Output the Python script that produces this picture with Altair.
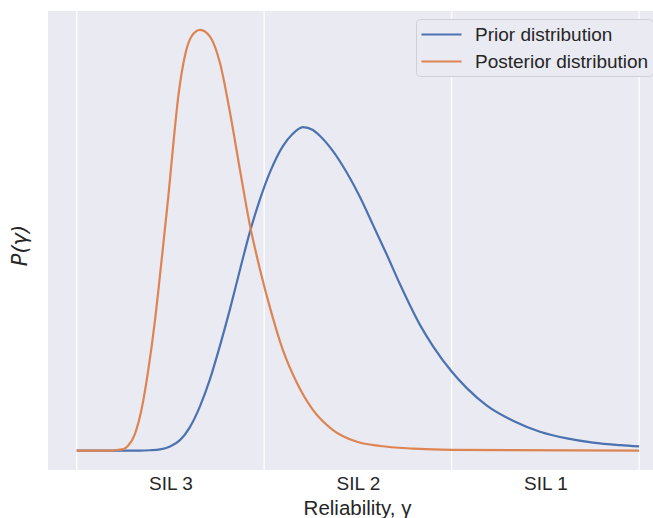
import altair as alt
import pandas as pd

# Reliability axis: 0..3 spans the three SIL bands (gridlines at band edges)
prior_x = [0.000, 0.338, 0.391, 0.444, 0.498, 0.551, 0.604, 0.658, 0.711, 0.764,
           0.818, 0.871, 0.924, 0.978, 1.031, 1.100, 1.150, 1.207, 1.260, 1.298,
           1.367, 1.442, 1.511, 1.581, 1.655, 1.724, 1.831, 1.901, 2.000, 2.082,
           2.188, 2.327, 2.471, 2.615, 2.754, 2.898, 3.000]
prior_y = [0.000, 0.000, 0.001, 0.003, 0.010, 0.025, 0.056, 0.106, 0.170, 0.249,
           0.337, 0.430, 0.520, 0.598, 0.662, 0.724, 0.752, 0.769, 0.762, 0.748,
           0.712, 0.660, 0.603, 0.536, 0.465, 0.396, 0.299, 0.248, 0.188, 0.148,
           0.107, 0.071, 0.045, 0.029, 0.019, 0.013, 0.010]

post_x = [0.000, 0.178, 0.222, 0.250, 0.275, 0.311, 0.347, 0.382, 0.418, 0.453,
          0.489, 0.515, 0.542, 0.578, 0.613, 0.658, 0.711, 0.764, 0.818, 0.871,
          0.924, 0.978, 1.031, 1.100, 1.175, 1.260, 1.367, 1.495, 1.618, 1.794,
          2.000, 3.000]
post_y = [0.000, 0.000, 0.002, 0.004, 0.012, 0.040, 0.100, 0.192, 0.311, 0.453,
          0.605, 0.727, 0.842, 0.940, 0.985, 1.000, 0.984, 0.922, 0.803, 0.667,
          0.536, 0.430, 0.340, 0.239, 0.161, 0.097, 0.049, 0.021, 0.011, 0.005,
          0.002, 0.000]

series_names = ["Prior distribution", "Posterior distribution"]
series_colors = ["#4C72B0", "#DD8452"]

band_edges = [0, 1, 2, 3]
tick_pos = [0.5, 1.5, 2.5]
tick_labels = ["SIL 3", "SIL 2", "SIL 1"]

df = pd.concat([
    pd.DataFrame({"x": prior_x, "y": prior_y, "series": series_names[0]}),
    pd.DataFrame({"x": post_x, "y": post_y, "series": series_names[1]}),
])

label_expr = " : ".join(
    [f"datum.value == {p} ? '{l}'" for p, l in zip(tick_pos, tick_labels)]
) + " : ''"

FONT = "Liberation Sans"
TXT = "#262626"

xscale = alt.Scale(domain=[-0.153, 3.074], nice=False, zero=False)
yscale = alt.Scale(domain=[-0.046, 1.045], nice=False, zero=False)

x_axis = alt.Axis(
    values=tick_pos,
    labelExpr=label_expr,
    grid=False,
    ticks=False,
    domain=False,
    labelFont=FONT,
    labelFontSize=19,
    labelColor=TXT,
    labelPadding=4,
    title="Reliability, γ",
    titleFont=FONT,
    titleFontSize=20.5,
    titleFontWeight="normal",
    titleColor=TXT,
    titleX=309,
    titlePadding=5,
)

y_axis = alt.Axis(
    labels=False,
    ticks=False,
    grid=False,
    domain=False,
    title="P(γ)",
    titleFont="DejaVu Sans",
    titleFontSize=21,
    titleFontWeight="normal",
    titleFontStyle="italic",
    titleColor=TXT,
    titleY=234,
    titleX=-18,
)

grid = alt.Chart(pd.DataFrame({"e": band_edges})).mark_rule(
    color="white", strokeWidth=1.2
).encode(x=alt.X("e:Q", scale=xscale, axis=x_axis))

color = alt.Color(
    "series:N",
    scale=alt.Scale(domain=series_names, range=series_colors),
    legend=alt.Legend(
        title=None,
        orient="none",
        legendX=368,
        legendY=8,
        symbolType="M-1,0H3",
        symbolSize=400,
        symbolStrokeWidth=2.2,
        labelFont=FONT,
        labelFontSize=19,
        labelColor=TXT,
        labelOffset=32,
        labelLimit=0,
        padding=4,
        fillColor="#EAEAF2",
        strokeColor="#cfcfd6",
        cornerRadius=4,
        rowPadding=5,
    ),
)


def line(name):
    return alt.Chart(df).transform_filter(
        alt.datum.series == name
    ).mark_line(strokeWidth=2.2, interpolate="monotone").encode(
        x=alt.X("x:Q", scale=xscale, axis=x_axis),
        y=alt.Y("y:Q", scale=yscale, axis=y_axis),
        color=color,
    )


chart = alt.layer(grid, line(series_names[0]), line(series_names[1])).properties(
    width=605,
    height=459,
    autosize=alt.AutoSizeParams(type="none"),
    padding={"left": 48, "top": 11, "right": 0, "bottom": 48},
    background="white",
).configure_view(fill="#EAEAF2", stroke=None)

chart.save("out.html", embed_options={"renderer": "svg", "actions": False})
